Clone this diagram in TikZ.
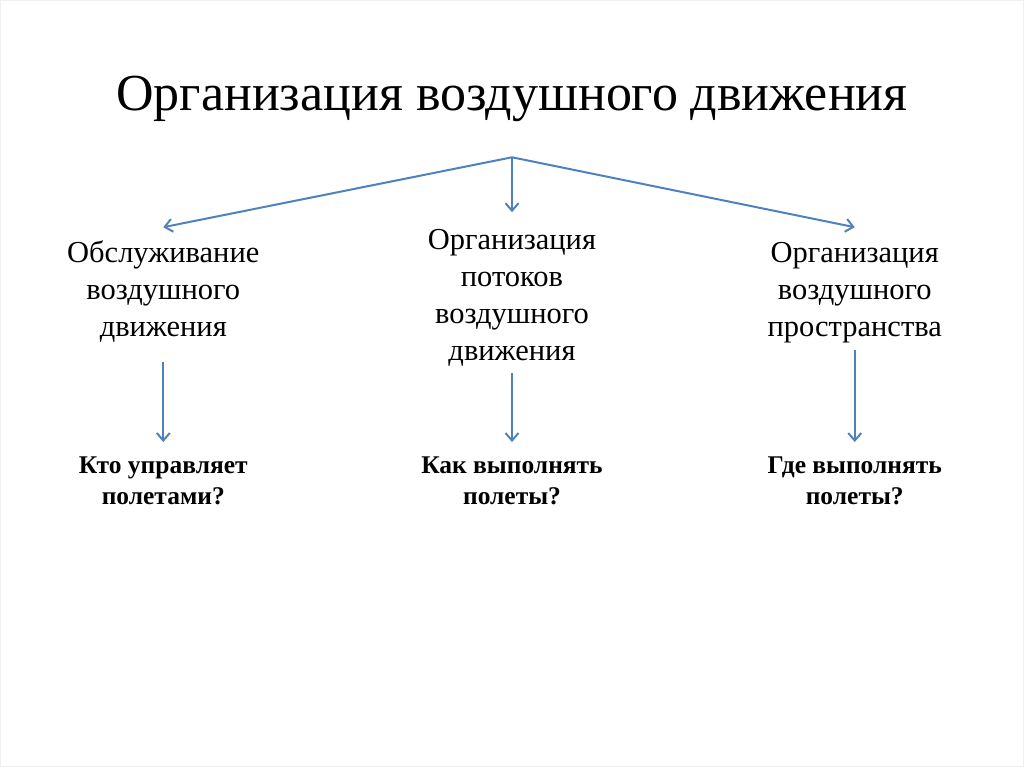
\documentclass[tikz,border=0pt]{standalone}
\usepackage{fontspec}
\setmainfont{Liberation Serif}
\usetikzlibrary{arrows.meta}
\definecolor{lineblue}{HTML}{4F81BD}
\begin{document}
\begin{tikzpicture}[x=1pt,y=-1pt,
  conn/.style={draw=lineblue, line width=2pt, -{Straight Barb[length=7.5pt,width=13pt]}},
  topic/.style={align=center, inner sep=0pt, font=\fontsize{30.5}{37}\selectfont},
  question/.style={align=center, inner sep=0pt, font=\bfseries\fontsize{25.5}{31}\selectfont},
  titletext/.style={inner sep=0pt, font=\fontsize{52}{60}\selectfont}]
\path[use as bounding box, draw=black!6, line width=0.8pt] (0,0) rectangle (1024,767);
\node[titletext, anchor=base] (title) at (512,110) {Организация воздушного движения};
\coordinate (apex) at (512,157);
\node[topic, anchor=base] (left) at (163,336) {Обслуживание\\воздушного\\движения};
\node[topic, anchor=base] (mid) at (512,360) {Организация\\потоков\\воздушного\\движения};
\node[topic, anchor=base] (right) at (855,336) {Организация\\воздушного\\пространства};
\node[question, anchor=base] (q1) at (163,504) {Кто управляет\\полетами?};
\node[question, anchor=base] (q2) at (512,504) {Как выполнять\\полеты?};
\node[question, anchor=base] (q3) at (855,504) {Где выполнять\\полеты?};
\coordinate (leftin) at (163,227);
\coordinate (midin) at (512,212);
\coordinate (rightin) at (855,227);
\draw[conn] (apex) -- (leftin);
\draw[conn] (apex) -- (midin);
\draw[conn] (apex) -- (rightin);
\draw[conn] ([yshift=-26pt]left.base) -- ([yshift=62pt]q1.base);
\draw[conn] ([yshift=-13pt]mid.base) -- ([yshift=62pt]q2.base);
\draw[conn] ([yshift=-14pt]right.base) -- ([yshift=62pt]q3.base);
\end{tikzpicture}
\end{document}
